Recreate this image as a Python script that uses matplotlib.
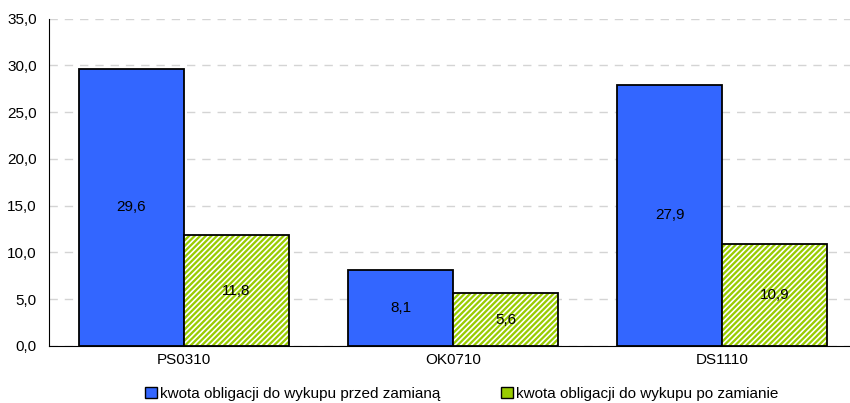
import numpy as np
import matplotlib.pyplot as plt
from matplotlib.patches import Patch

plt.rcParams['font.family'] = ['Liberation Sans', 'DejaVu Sans']
plt.rcParams['hatch.linewidth'] = 1.2

categories = ['PS0310', 'OK0710', 'DS1110']
before = [29.6, 8.1, 27.9]
after = [11.8, 5.6, 10.9]
labels = ['kwota obligacji do wykupu przed zamianą', 'kwota obligacji do wykupu po zamianie']

blue = '#3366FF'
green = '#99CC00'
fs = 11

fig = plt.figure(figsize=(8.5, 4.03), dpi=100)
ax = fig.add_axes([0.058, 0.142, 0.95, 0.812])

x = np.arange(len(categories))
w = 0.39

ax.bar(x - w / 2, before, w, color=blue, edgecolor='black', linewidth=1.3, zorder=3)
# hatched fill first, black outline on top
ax.bar(x + w / 2, after, w, color=green, edgecolor='white', hatch='//////', linewidth=0, zorder=3)
ax.bar(x + w / 2, after, w, fill=False, edgecolor='black', linewidth=1.3, zorder=4)

for xi, v in zip(x - w / 2, before):
    ax.text(xi, v / 2, f'{v:.1f}'.replace('.', ','), ha='center', va='center', fontsize=fs, zorder=5)
for xi, v in zip(x + w / 2, after):
    ax.text(xi, v / 2, f'{v:.1f}'.replace('.', ','), ha='center', va='center', fontsize=fs, zorder=5)

ax.set_xlim(-0.5, 2.5)
ax.set_ylim(0, 35)
ax.set_yticks(np.arange(0, 36, 5))
ax.set_yticklabels([f'{t:.1f}'.replace('.', ',') for t in np.arange(0, 36, 5)], fontsize=fs)
ax.set_xticks(x)
ax.set_xticklabels(categories, fontsize=fs)
ax.tick_params(axis='x', length=0, pad=5)
ax.tick_params(axis='y', length=0, pad=9)
ax.yaxis.grid(True, color='#D4D4D4', linestyle=(0, (6, 5)), linewidth=1, zorder=0)

for s in ['top', 'right']:
    ax.spines[s].set_visible(False)
ax.spines['left'].set_linewidth(0.8)
ax.spines['bottom'].set_linewidth(0.8)

handles = [Patch(facecolor=blue, edgecolor='black', linewidth=1),
           Patch(facecolor=green, edgecolor='black', linewidth=1)]
fig.legend(handles, labels, loc='lower center', bbox_to_anchor=(0.543, -0.028), ncol=2,
           frameon=False, fontsize=fs, handlelength=0.75, handleheight=0.75,
           handletextpad=0.2, columnspacing=4.0)

fig.savefig('out.png', dpi=100)
